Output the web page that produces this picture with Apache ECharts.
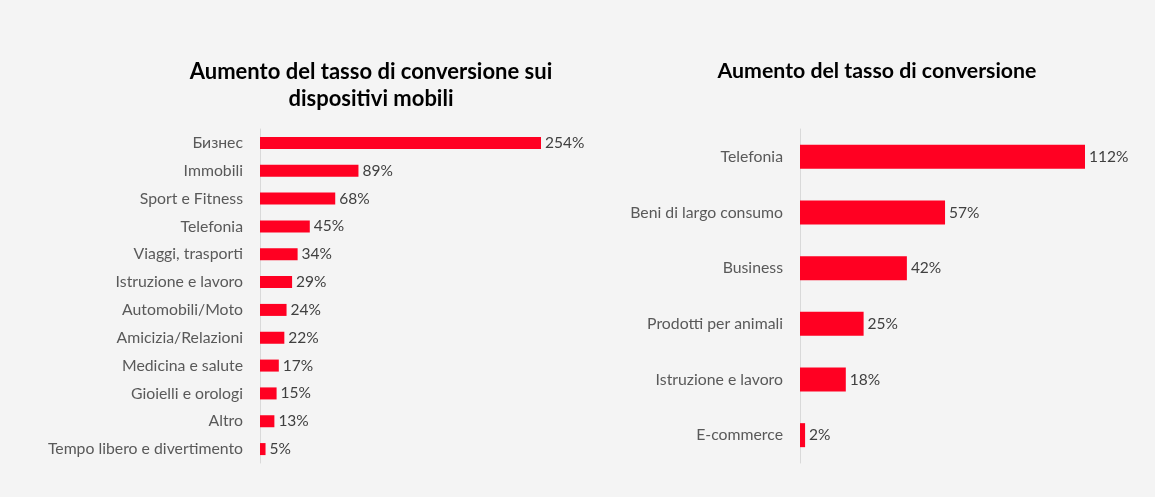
<!DOCTYPE html>
<html>
<head>
<meta charset="utf-8">
<script src="https://cdn.jsdelivr.net/npm/echarts@6/dist/echarts.min.js"></script>
<style>
html,body{margin:0;padding:0;background:#f4f4f4;}
#c{width:1155px;height:497px;}
</style>
</head>
<body>
<div id="c"></div>
<script>
const leftTitle = 'Aumento del tasso di conversione sui\ndispositivi mobili';
const leftCategories = ['Бизнес','Immobili','Sport e Fitness','Telefonia','Viaggi, trasporti','Istruzione e lavoro','Automobili/Moto','Amicizia/Relazioni','Medicina e salute','Gioielli e orologi','Altro','Tempo libero e divertimento'];
const leftValues = [254,89,68,45,34,29,24,22,17,15,13,5];

const rightTitle = 'Aumento del tasso di conversione';
const rightCategories = ['Telefonia','Beni di largo consumo','Business','Prodotti per animali','Istruzione e lavoro','E-commerce'];
const rightValues = [112,57,42,25,18,2];

const FONT = 'Lato, "Open Sans", sans-serif';
const RED = '#ff0022';

const chart = echarts.init(document.getElementById('c'));
function catAxis(idx, cats){
  return {type:'category', gridIndex:idx, data:cats, inverse:true,
    axisLine:{show:true, lineStyle:{color:'#d9d9d9', width:1}},
    axisTick:{show:false},
    axisLabel:{color:'#595959', fontSize:15.8, fontFamily:FONT, margin:17}};
}
function valAxis(idx, max){
  return {type:'value', gridIndex:idx, min:0, max:max, show:false, splitLine:{show:false}};
}
function barSeries(idx, vals, w){
  return {type:'bar', xAxisIndex:idx, yAxisIndex:idx, data:vals, barWidth:w,
    itemStyle:{color:RED}, silent:true,
    label:{show:true, position:'right', distance:4, formatter:'{c}%', color:'#404040', fontSize:15.5, fontFamily:FONT}};
}
chart.setOption({
  backgroundColor:'#f4f4f4',
  animation:false,
  title:[
    {text:leftTitle, left:366, top:53, textAlign:'center',
     textStyle:{fontSize:22, fontWeight:'bold', color:'#000', fontFamily:FONT, lineHeight:27}},
    {text:rightTitle, left:872, top:56, textAlign:'center',
     textStyle:{fontSize:21.3, fontWeight:'bold', color:'#000', fontFamily:FONT}}
  ],
  grid:[
    {left:260, top:129, width:281, height:334, containLabel:false},
    {left:800, top:129, width:285, height:334, containLabel:false}
  ],
  xAxis:[valAxis(0, 254), valAxis(1, 112)],
  yAxis:[catAxis(0, leftCategories), catAxis(1, rightCategories)],
  series:[barSeries(0, leftValues, 12), barSeries(1, rightValues, 24)]
});
</script>
</body>
</html>
